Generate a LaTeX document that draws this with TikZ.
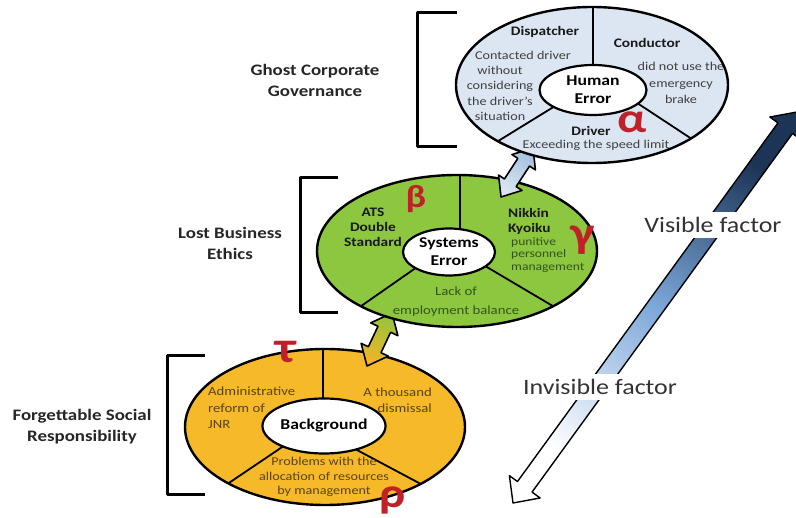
\documentclass[tikz,border=0pt]{standalone}
\usepackage{fontspec}
\setmainfont{Carlito}[FakeStretch=1.18]
\usetikzlibrary{calc,shapes.geometric}
\definecolor{HEblue}{RGB}{220,230,242}
\definecolor{SEgreen}{RGB}{141,198,63}
\definecolor{BGyellow}{RGB}{245,185,42}
\definecolor{greekred}{RGB}{192,32,40}
\definecolor{SEtext}{RGB}{50,85,25}
\definecolor{BGtext}{RGB}{90,68,18}
\definecolor{navy}{RGB}{28,52,86}
\definecolor{midblue}{RGB}{125,168,218}
\definecolor{linktop}{RGB}{165,192,225}
\definecolor{linkbot}{RGB}{218,230,240}
\definecolor{linkgreen}{RGB}{150,196,60}
\definecolor{linkyellow}{RGB}{240,180,40}
\tikzstyle{ring}=[draw=black,line width=2.4pt]
\tikzstyle{divider}=[line width=1.8pt]
\tikzstyle{core}=[ellipse,draw=black,line width=2.2pt,fill=white,inner sep=0pt,font=\bfseries\fontsize{15}{18}\selectfont,align=center]
\tikzstyle{secthead}=[font=\bfseries\fontsize{13}{15}\selectfont,align=center,inner sep=0pt,text=black!90]
\tikzstyle{secttext}=[font=\fontsize{12}{15}\selectfont,align=center,inner sep=0pt]
\tikzstyle{bracket}=[line width=3pt]
\tikzstyle{tier}=[font=\bfseries\fontsize{16}{21}\selectfont,align=center,text=black!85]
\tikzstyle{greek}=[font=\bfseries,text=greekred,inner sep=0pt]
\tikzstyle{factor}=[fill=white,font=\fontsize{22}{26}\selectfont,inner xsep=10pt,inner ysep=5pt,text=black!80]

% double headed block arrow: [style]{tip a}{tip b}{half shaft}{half head}{head length}
\newcommand{\twoway}[6][]{%
  \coordinate (ta) at (#2);
  \coordinate (tb) at (#3);
  \coordinate (ha) at ($(ta)!#6!(tb)$);
  \coordinate (hb) at ($(tb)!#6!(ta)$);
  \path[#1] (ta) -- ($(ha)!#5!90:(tb)$) -- ($(ha)!#4!90:(tb)$) -- ($(hb)!#4!-90:(ta)$)
    -- ($(hb)!#5!-90:(ta)$) -- (tb) -- ($(hb)!#5!90:(ta)$) -- ($(hb)!#4!90:(ta)$)
    -- ($(ha)!#4!-90:(tb)$) -- ($(ha)!#5!-90:(tb)$) -- cycle;
}

\begin{document}
\begin{tikzpicture}[x=1pt,y=-1pt,line join=round]

  \useasboundingbox (0,0) rectangle (796,518);

  % visible / invisible axis
  \twoway[draw=black,line width=1.4pt,top color=navy,bottom color=white,middle color=midblue,shading angle=-36]{797,112}{513,503}{9pt}{19pt}{20pt}
  \node[factor] (vis) at (713,225) {Visible factor};
  \node[factor] (invis) at (600,387) {Invisible factor};

  % brackets
  \draw[bracket] (457,13) -- (417,13) -- (417,147) -- (457,147);
  \draw[bracket] (338,178) -- (300,178) -- (300,313) -- (338,313);
  \draw[bracket] (205,356) -- (167,356) -- (167,495) -- (205,495);

  % background
  \fill[BGyellow] (325,427) ellipse [x radius=140pt, y radius=78pt];
  \begin{scope}
    \clip (325,427) ellipse [x radius=140pt, y radius=78pt];
    \draw[divider] (323,330) -- (323,426);
    \draw[divider] (300,435) -- (214,493);
    \draw[divider] (340,441) -- (434,491);
  \end{scope}
  \draw[ring] (325,427) ellipse [x radius=140pt, y radius=78pt];
  \node[core,minimum width=108pt,minimum height=55pt] (bg) at (324,426) {Background};
  \node[secttext,anchor=west,align=left,text=BGtext,font=\fontsize{12.5}{16.5}\selectfont] (adm) at (208,408) {Administrative\\reform of\\JNR};
  \node[secttext,anchor=east,align=right,text=BGtext,font=\fontsize{12.5}{16}\selectfont] (thou) at (432,400) {A thousand\\dismissal};
  \node[secttext,text=BGtext,font=\fontsize{12}{14.5}\selectfont] (prob) at (324,477) {Problems with the\\allocation of resources\\by management};

  % link background - systems error
  \twoway[draw=black,line width=1.6pt,top color=linkgreen,bottom color=linkyellow,shading angle=-25]{392,313}{367,366}{7pt}{15pt}{18pt}

  % systems error
  \fill[SEgreen] (457,251) ellipse [x radius=140pt, y radius=76pt];
  \begin{scope}
    \clip (457,251) ellipse [x radius=140pt, y radius=76pt];
    \draw[divider] (460,160) -- (460,251);
    \draw[divider] (430,258) -- (344,318);
    \draw[divider] (475,260) -- (573,318);
  \end{scope}
  \draw[ring] (457,251) ellipse [x radius=140pt, y radius=76pt];
  \node[core,minimum width=92pt,minimum height=47pt] (sys) at (449,252) {Systems\\Error};
  \node[secthead] (ats) at (373,227) {ATS\\Double\\Standard};
  \node[secthead,anchor=west,align=left] (nik) at (508,221) {Nikkin\\Kyoiku};
  \node[secttext,anchor=west,align=left,text=SEtext,font=\fontsize{11.5}{12.5}\selectfont] (nikB) at (511,255) {punitive\\personnel\\management};
  \node[secttext,text=SEtext,font=\fontsize{12.5}{19}\selectfont] (lack) at (456,302) {Lack of\\employment balance};

  % link systems error - human error
  \twoway[draw=black,line width=1.6pt,top color=linktop,bottom color=linkbot,shading angle=-34]{533,148}{501,197}{7pt}{14pt}{17pt}

  % human error
  \fill[HEblue] (592,85) ellipse [x radius=136pt, y radius=78pt];
  \begin{scope}
    \clip (592,85) ellipse [x radius=136pt, y radius=78pt];
    \draw[divider] (593,-5) -- (593,90);
    \draw[divider] (573,95) -- (482,151);
    \draw[divider] (625,95) -- (707,149);
    \node[secttext,text=black!75,font=\fontsize{12}{16.5}\selectfont] (condB) at (681,83) {did not use the\\emergency\\brake};
  \end{scope}
  \draw[ring] (592,85) ellipse [x radius=136pt, y radius=78pt];
  \node[core,minimum width=107pt,minimum height=50pt] (hum) at (593,90) {Human\\Error};
  \node[secthead] (disp) at (545,32) {Dispatcher};
  \node[secttext,text=black!75] (dispA) at (523,55) {Contacted driver};
  \node[secttext,text=black!75,font=\fontsize{12}{15.5}\selectfont] (dispB) at (500,93.5) {without\\considering\\the driver's\\situation};
  \node[secthead] (cond) at (647,43) {Conductor};
  \node[secthead] (drv) at (591,131) {Driver};
  \node[secttext,text=black!75] (drvB) at (596,145) {Exceeding the speed limit};

  % greek markers
  \node[greek,font=\bfseries\fontsize{42}{42}\selectfont] (alpha) at (632,122) {α};
  \node[greek,font=\bfseries\fontsize{32}{32}\selectfont] (beta) at (416,199) {β};
  \node[greek,font=\bfseries\fontsize{44}{44}\selectfont] (gamma) at (583,240) {γ};
  \node[greek,font=\bfseries\fontsize{44}{44}\selectfont] (tau) at (286,352) {τ};
  \node[greek,font=\bfseries\fontsize{42}{42}\selectfont] (rho) at (393,500) {ρ};

  % levels
  \node[tier] (gcg) at (315,80.5) {Ghost Corporate\\Governance};
  \node[tier] (lbe) at (230,243) {Lost Business\\Ethics};
  \node[tier] (fsr) at (82,427) {Forgettable Social\\Responsibility};

\end{tikzpicture}
\end{document}
